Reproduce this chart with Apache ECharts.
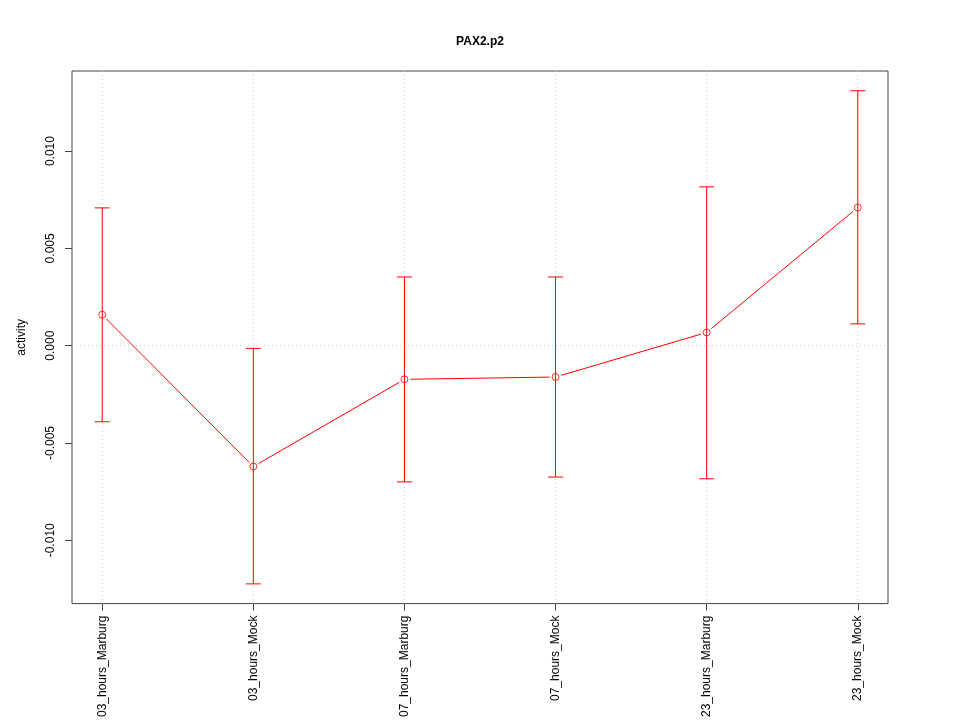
<!DOCTYPE html>
<html>
<head>
<meta charset="utf-8">
<script src="https://cdn.jsdelivr.net/npm/echarts@6/dist/echarts.min.js"></script>
<style>html,body{margin:0;padding:0;background:#fff}#c{width:960px;height:720px}</style>
</head>
<body>
<div id="c"></div>
<script>
var categories = ['03_hours_Marburg', '03_hours_Mock', '07_hours_Marburg', '07_hours_Mock', '23_hours_Marburg', '23_hours_Mock'];
var means = [0.00159, -0.00621, -0.00173, -0.00161, 0.00068, 0.00710];
var upper = [0.00708, -0.00014, 0.00353, 0.00353, 0.00816, 0.01310];
var lower = [-0.00391, -0.01224, -0.00700, -0.00675, -0.00684, 0.00112];
var yTicks = [-0.010, -0.005, 0.000, 0.005, 0.010];

var xs = categories.map(function (c, i) { return i + 1; });
var pad = 0.04 * (Math.max.apply(null, upper) - Math.min.apply(null, lower));
var yMin = Math.min.apply(null, lower) - pad;
var yMax = Math.max.apply(null, upper) + pad;

var errData = xs.map(function (x, i) { return [x, lower[i], upper[i]]; });
var segData = [];
for (var i = 0; i < xs.length - 1; i++) {
  segData.push([xs[i], means[i], xs[i + 1], means[i + 1]]);
}
var ptData = xs.map(function (x, i) { return [x, means[i]]; });
var guideData = xs.map(function (x) { return [x, 0]; }).concat([[0, 1]]);

var RED = '#ff0000';
var FONT = 'Liberation Sans';

var chart = echarts.init(document.getElementById('c'), null, {renderer: 'canvas'});
chart.setOption({
  animation: false,
  backgroundColor: '#fff',
  title: {
    text: 'PAX2.p2', left: 'center', top: 36, padding: 0,
    textStyle: {fontFamily: FONT, fontSize: 12, fontWeight: 'bold', color: '#000'}
  },
  grid: {left: 72, right: 72, top: 71, bottom: 116, show: true, borderColor: '#444', borderWidth: 1, backgroundColor: 'transparent'},
  xAxis: {
    type: 'value', min: 0.8, max: 6.2,
    axisLine: {show: false, onZero: false},
    splitLine: {show: false},
    axisTick: {show: true, length: 7, customValues: xs, lineStyle: {color: '#444'}},
    axisLabel: {
      show: true, customValues: xs, rotate: 90, margin: 12,
      fontFamily: FONT, fontSize: 12, color: '#000',
      formatter: function (v) { return categories[Math.round(v) - 1] || ''; }
    }
  },
  yAxis: {
    type: 'value', min: yMin, max: yMax,
    name: 'activity', nameLocation: 'middle', nameRotate: 90, nameGap: 44,
    nameTextStyle: {fontFamily: FONT, fontSize: 12, color: '#000'},
    axisLine: {show: false, onZero: false},
    splitLine: {show: false},
    axisTick: {show: true, length: 7, customValues: yTicks, lineStyle: {color: '#444'}},
    axisLabel: {
      show: true, customValues: yTicks, rotate: 90, margin: 15,
      fontFamily: FONT, fontSize: 12, color: '#000',
      formatter: function (v) { return v.toFixed(3); }
    }
  },
  series: [
    {
      type: 'custom', z: 1, silent: true,
      data: guideData,
      renderItem: function (params, api) {
        var cs = params.coordSys;
        var st = {stroke: '#cccccc', lineWidth: 1, lineDash: [1, 3], fill: null};
        if (api.value(1) === 0) {
          var p = api.coord([api.value(0), 0]);
          return {type: 'line', shape: {x1: p[0], y1: cs.y, x2: p[0], y2: cs.y + cs.height}, style: st};
        }
        var q = api.coord([1, 0]);
        return {type: 'line', shape: {x1: cs.x, y1: q[1], x2: cs.x + cs.width, y2: q[1]}, style: st};
      }
    },
    {
      type: 'custom', z: 3, silent: true,
      data: errData,
      renderItem: function (params, api) {
        var x = api.value(0);
        var lo = api.coord([x, api.value(1)]);
        var hi = api.coord([x, api.value(2)]);
        var w = 7.5;
        var st = {stroke: RED, lineWidth: 1, fill: null};
        return {
          type: 'group',
          children: [
            {type: 'line', shape: {x1: lo[0], y1: lo[1], x2: hi[0], y2: hi[1]}, style: st},
            {type: 'line', shape: {x1: lo[0] - w, y1: lo[1], x2: lo[0] + w, y2: lo[1]}, style: st},
            {type: 'line', shape: {x1: hi[0] - w, y1: hi[1], x2: hi[0] + w, y2: hi[1]}, style: st}
          ]
        };
      }
    },
    {
      type: 'custom', z: 3, silent: true,
      data: segData,
      renderItem: function (params, api) {
        var a = api.coord([api.value(0), api.value(1)]);
        var b = api.coord([api.value(2), api.value(3)]);
        var dx = b[0] - a[0], dy = b[1] - a[1];
        var len = Math.sqrt(dx * dx + dy * dy);
        var g = 6;
        var ux = dx / len, uy = dy / len;
        return {
          type: 'polyline',
          shape: {points: [[a[0] + ux * g, a[1] + uy * g], [b[0] - ux * g, b[1] - uy * g]]},
          style: {stroke: RED, lineWidth: 1, fill: null}
        };
      }
    },
    {
      type: 'scatter', z: 4, silent: true,
      data: ptData,
      symbol: 'circle', symbolSize: 7,
      itemStyle: {color: 'rgba(0,0,0,0)', borderColor: RED, borderWidth: 1}
    }
  ]
});
</script>
</body>
</html>
